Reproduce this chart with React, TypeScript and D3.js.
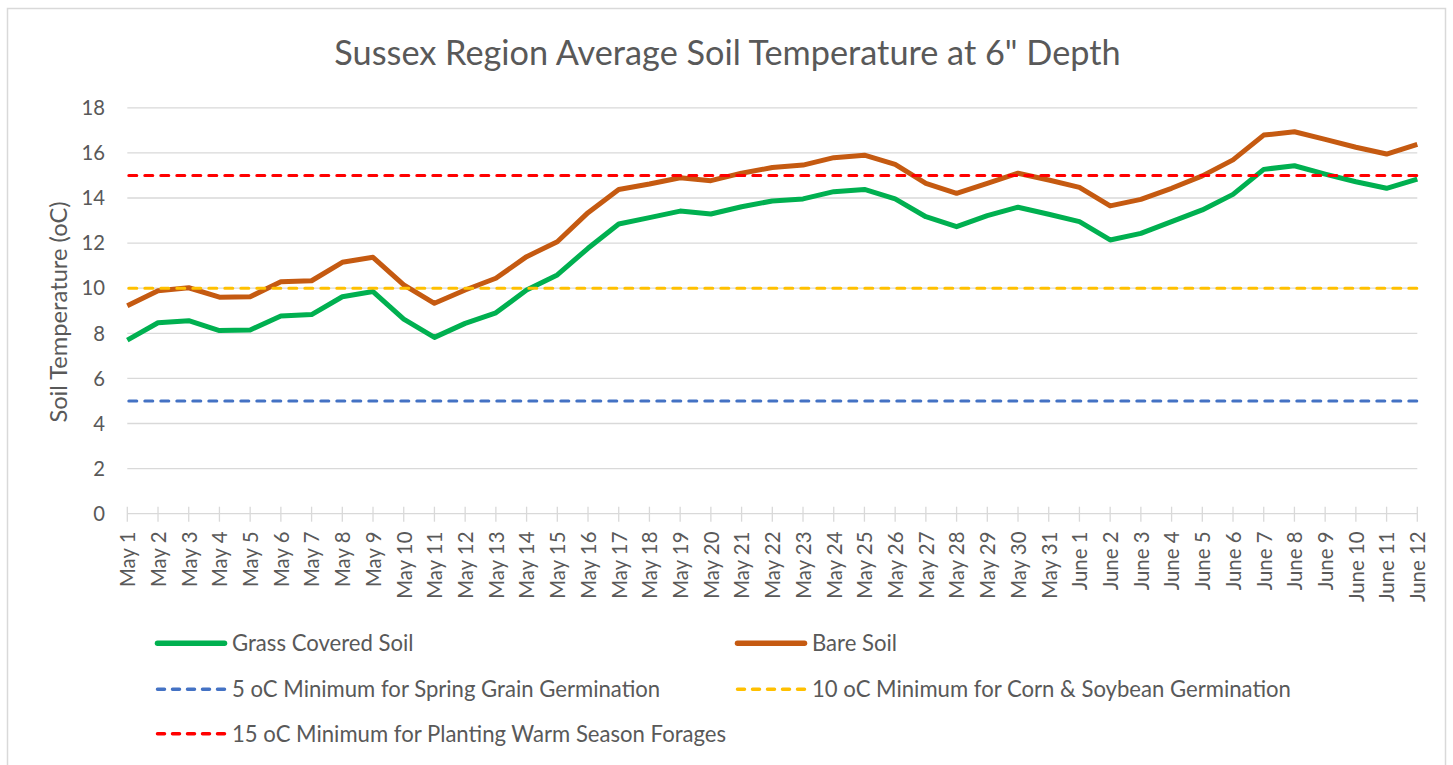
import React from "react";
import * as d3 from "d3";

const categories = [
  "May 1","May 2","May 3","May 4","May 5","May 6","May 7","May 8","May 9","May 10",
  "May 11","May 12","May 13","May 14","May 15","May 16","May 17","May 18","May 19","May 20",
  "May 21","May 22","May 23","May 24","May 25","May 26","May 27","May 28","May 29","May 30",
  "May 31","June 1","June 2","June 3","June 4","June 5","June 6","June 7","June 8","June 9",
  "June 10","June 11","June 12",
];

const grassSoil = [
  7.7, 8.47, 8.56, 8.12, 8.15, 8.77, 8.83, 9.62, 9.85, 8.63,
  7.82, 8.44, 8.91, 9.92, 10.59, 11.77, 12.85, 13.13, 13.42, 13.29,
  13.61, 13.87, 13.96, 14.28, 14.38, 13.96, 13.17, 12.73, 13.22, 13.59,
  13.28, 12.95, 12.14, 12.43, 12.95, 13.47, 14.16, 15.27, 15.43, 15.06,
  14.72, 14.43, 14.84,
];

const bareSoil = [
  9.22, 9.89, 10.02, 9.6, 9.62, 10.29, 10.33, 11.15, 11.37, 10.15,
  9.33, 9.92, 10.44, 11.4, 12.06, 13.35, 14.38, 14.62, 14.9, 14.77,
  15.1, 15.35, 15.46, 15.79, 15.9, 15.49, 14.65, 14.21, 14.65, 15.1,
  14.8, 14.47, 13.65, 13.94, 14.43, 14.98, 15.69, 16.79, 16.94, 16.6,
  16.25, 15.95, 16.38,
];

const thresholdValues = [5, 10, 15];
const thresholdLabels = [
  "5 oC Minimum for Spring Grain Germination",
  "10 oC Minimum for Corn & Soybean Germination",
  "15 oC Minimum for Planting Warm Season Forages",
];
const yTicks = [0, 2, 4, 6, 8, 10, 12, 14, 16, 18];
const titleText = 'Sussex Region Average Soil Temperature at 6" Depth';
const yAxisTitle = "Soil Temperature (oC)";

const W = 1453;
const H = 765;
const FONT = "Lato, 'Open Sans', sans-serif";
const TEXT = "#595959";
const GRID = "#d9d9d9";

let measureCtx: CanvasRenderingContext2D | null = null;
function fitSize(text: string, target: number, fallback: number) {
  try {
    if (!measureCtx) measureCtx = document.createElement("canvas").getContext("2d");
    if (!measureCtx) return fallback;
    measureCtx.font = `100px ${FONT}`;
    const w = measureCtx.measureText(text).width;
    if (!w) return fallback;
    return (100 * target) / w;
  } catch {
    return fallback;
  }
}

export default function App() {
  const x = d3.scalePoint<string>().domain(categories).range([127.3, 1417.3]);
  const y = d3.scaleLinear().domain([0, 18]).range([513.7, 107.8]);

  const line = d3
    .line<number>()
    .x((_, i) => x(categories[i]) as number)
    .y((d) => y(d));

  const titleSize = fitSize(titleText, 789, 34);
  const legendSize = fitSize(thresholdLabels[2], 495, 22);
  const yTitleSize = fitSize(yAxisTitle, 222, 23);
  const xTickSize = fitSize("May 1", 56, 21);
  const yTickSize = Math.min(fitSize("18", 23.5, 21.5), 22.5);

  const threshColors = ["#4472c4", "#ffc000", "#ff0000"];
  const x0 = x(categories[0]) as number;
  const x1 = x(categories[categories.length - 1]) as number;

  const legendItems = [
    { label: "Grass Covered Soil", color: "#00b050", dashed: false, lx: 155, ly: 643.3 },
    { label: "Bare Soil", color: "#c55a11", dashed: false, lx: 735, ly: 643.3 },
    { label: thresholdLabels[0], color: threshColors[0], dashed: true, lx: 155, ly: 689.3 },
    { label: thresholdLabels[1], color: threshColors[1], dashed: true, lx: 735, ly: 689.3 },
    { label: thresholdLabels[2], color: threshColors[2], dashed: true, lx: 155, ly: 733.8 },
  ];

  return (
    <svg
      width={W}
      height={H}
      style={{ position: "absolute", left: 0, top: 0, background: "#fff" }}
      fontFamily={FONT}
    >
      <rect x={7.5} y={8.5} width={1438} height={770} fill="#fff" stroke={GRID} strokeWidth={1.5} />
      <text x={727.5} y={65} textAnchor="middle" fontSize={titleSize} fill={TEXT}>
        {titleText}
      </text>

      {yTicks.map((t) => (
        <g key={t}>
          {t !== 0 && (
            <line x1={x0} x2={x1} y1={y(t)} y2={y(t)} stroke={GRID} strokeWidth={1.3} />
          )}
          <text x={105} y={y(t)} dy="0.36em" textAnchor="end" fontSize={yTickSize} fill={TEXT}>
            {t}
          </text>
        </g>
      ))}

      <line x1={x0} x2={x1} y1={y(0)} y2={y(0)} stroke={GRID} strokeWidth={1.3} />
      {categories.map((c) => (
        <g key={c}>
          <line x1={x(c)} x2={x(c)} y1={y(0) - 7} y2={y(0) + 8} stroke={GRID} strokeWidth={1.3} />
          <text
            transform={`translate(${(x(c) as number) + 0.5},${531.5}) rotate(-90)`}
            textAnchor="end"
            dy="0.36em"
            fontSize={xTickSize}
            fill={TEXT}
          >
            {c}
          </text>
        </g>
      ))}

      <text
        transform={`translate(58,312) rotate(-90)`}
        textAnchor="middle"
        dy="0.36em"
        fontSize={yTitleSize}
        fill={TEXT}
      >
        {yAxisTitle}
      </text>

      <path d={line(grassSoil) || ""} fill="none" stroke="#00b050" strokeWidth={5} strokeLinejoin="round" />
      <path d={line(bareSoil) || ""} fill="none" stroke="#c55a11" strokeWidth={5} strokeLinejoin="round" />

      {thresholdValues.map((v, i) => (
        <line
          key={v}
          x1={x0 + 1.5}
          x2={x1}
          y1={y(v)}
          y2={y(v)}
          stroke={threshColors[i]}
          strokeWidth={3}
          strokeDasharray="8 8"
          strokeLinecap="round"
        />
      ))}

      {legendItems.map((it) => (
        <g key={it.label}>
          <line
            x1={it.lx + 2.5}
            x2={it.lx + 69.5}
            y1={it.ly}
            y2={it.ly}
            stroke={it.color}
            strokeWidth={it.dashed ? 3.5 : 5.5}
            strokeDasharray={it.dashed ? "7 8" : undefined}
            strokeLinecap="round"
          />
          <text x={it.lx + 77} y={it.ly} dy="0.36em" fontSize={legendSize} fill={TEXT}>
            {it.label}
          </text>
        </g>
      ))}
    </svg>
  );
}
